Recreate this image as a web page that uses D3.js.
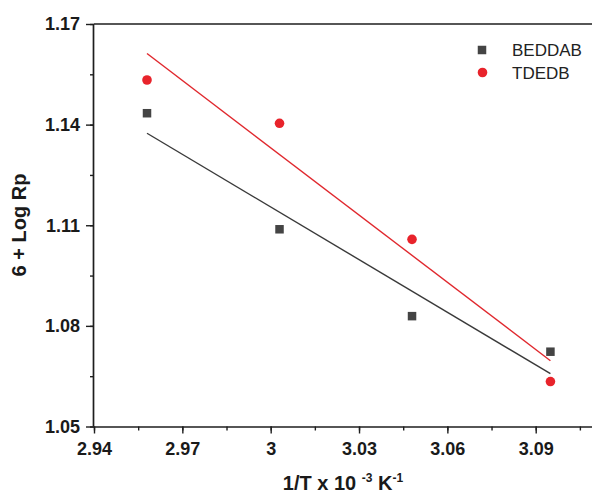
<!DOCTYPE html>
<html>
<head>
<meta charset="utf-8">
<script src="https://cdn.jsdelivr.net/npm/d3@7"></script>
<style>
  html, body { margin: 0; padding: 0; background: #ffffff; }
  svg { display: block; font-family: "Liberation Sans", Arial, sans-serif; }
</style>
</head>
<body>
<svg id="chart" width="592" height="494"></svg>
<script>
// ---- data ----
const invT = [2.958, 3.003, 3.048, 3.095];
const beddab = [1.1434, 1.1088, 1.0829, 1.0723];
const tdedb = [1.1533, 1.1404, 1.1058, 1.0634];
const seriesNames = ["BEDDAB", "TDEDB"];
const xTicks = [2.94, 2.97, 3.00, 3.03, 3.06, 3.09];
const xTickLabels = ["2.94", "2.97", "3", "3.03", "3.06", "3.09"];
const yTicks = [1.05, 1.08, 1.11, 1.14, 1.17];
const yTickLabels = ["1.05", "1.08", "1.11", "1.14", "1.17"];

(function () {
const svg = d3.select("#chart");
const mLeft = 94, mRight = 594.6, mTop = 24, mBottom = 426.5;

const x = d3.scaleLinear().domain([2.94, 3.11]).range([mLeft, mRight]);
const y = d3.scaleLinear().domain([1.05, 1.17]).range([mBottom, mTop]);

const axisColor = "#1e1e1e";

// minor ticks
const xMinor = d3.range(0, 12).map(i => 2.94 + 0.015 * i).filter(v => v <= 3.11);
const yMinor = d3.range(0, 9).map(i => 1.05 + 0.015 * i);

// x axis
const gx = svg.append("g").attr("transform", `translate(0,${mBottom})`);
gx.call(d3.axisBottom(x).tickValues(xMinor).tickSize(4).tickFormat(""))
  .call(g => g.select(".domain").remove());
gx.selectAll("line").attr("stroke", axisColor).attr("stroke-width", 1.4);
const gx2 = svg.append("g").attr("transform", `translate(0,${mBottom})`);
gx2.call(d3.axisBottom(x).tickValues(xTicks).tickSize(7).tickPadding(9)
    .tickFormat((d, i) => xTickLabels[i]));
gx2.select(".domain").attr("stroke", axisColor).attr("stroke-width", 1.7)
   .attr("d", `M${mLeft},0.5H${mRight}`);
gx2.selectAll("line").attr("stroke", axisColor).attr("stroke-width", 1.4);
gx2.selectAll("text").attr("font-size", 18).attr("font-weight", "bold")
   .attr("fill", "#1a1a1a").attr("font-family", "Liberation Sans, Arial, sans-serif");

// y axis
const gy = svg.append("g").attr("transform", `translate(${mLeft},0)`);
gy.call(d3.axisLeft(y).tickValues(yMinor).tickSize(4).tickFormat(""))
  .call(g => g.select(".domain").remove());
gy.selectAll("line").attr("stroke", axisColor).attr("stroke-width", 1.4);
const gy2 = svg.append("g").attr("transform", `translate(${mLeft},0)`);
gy2.call(d3.axisLeft(y).tickValues(yTicks).tickSize(8).tickPadding(6)
    .tickFormat((d, i) => yTickLabels[i]));
gy2.select(".domain").attr("stroke", axisColor).attr("stroke-width", 1.7)
   .attr("d", `M-0.5,${mBottom}V${mTop}`);
gy2.selectAll("line").attr("stroke", axisColor).attr("stroke-width", 1.4);
gy2.selectAll("text").attr("font-size", 18).attr("font-weight", "bold")
   .attr("fill", "#1a1a1a").attr("font-family", "Liberation Sans, Arial, sans-serif");

// top frame
svg.append("line").attr("x1", mLeft).attr("x2", mRight)
  .attr("y1", y(1.17)).attr("y2", y(1.17))
  .attr("stroke", axisColor).attr("stroke-width", 1.7);

// fit lines (least squares of each series)
function fit(xs, ys) {
  const mx = d3.mean(xs), my = d3.mean(ys);
  let sxy = 0, sxx = 0;
  xs.forEach((v, i) => { sxy += (v - mx) * (ys[i] - my); sxx += (v - mx) * (v - mx); });
  const b = sxy / sxx;
  return v => my + b * (v - mx);
}
const xr = d3.extent(invT);
[[beddab, "#3a3a3a"], [tdedb, "#e0282e"]].forEach(([ys, c]) => {
  const f = fit(invT, ys);
  svg.append("line")
    .attr("x1", x(xr[0])).attr("y1", y(f(xr[0])))
    .attr("x2", x(xr[1])).attr("y2", y(f(xr[1])))
    .attr("stroke", c).attr("stroke-width", 1.4);
});

// markers
const sq = 8.5;
svg.append("g").selectAll("rect").data(invT).join("rect")
  .attr("x", (d) => x(d) - sq / 2)
  .attr("y", (d, i) => y(beddab[i]) - sq / 2)
  .attr("width", sq).attr("height", sq)
  .attr("fill", "#444444");
svg.append("g").selectAll("circle").data(invT).join("circle")
  .attr("cx", d => x(d))
  .attr("cy", (d, i) => y(tdedb[i]))
  .attr("r", 4.8)
  .attr("fill", "#e8232b");

// legend
const lg = svg.append("g");
lg.append("rect").attr("x", 482 - sq / 2).attr("y", 50 - sq / 2)
  .attr("width", sq).attr("height", sq).attr("fill", "#444444");
lg.append("circle").attr("cx", 482.5).attr("cy", 72.5).attr("r", 4.8).attr("fill", "#e8232b");
lg.append("text").attr("x", 512).attr("y", 56).attr("font-size", 17)
  .attr("fill", "#222").text(seriesNames[0]);
lg.append("text").attr("x", 512).attr("y", 78.5).attr("font-size", 17)
  .attr("fill", "#222").text(seriesNames[1]);

// axis titles
const xt = svg.append("text").attr("x", 343).attr("y", 490)
  .attr("text-anchor", "middle").attr("font-size", 20).attr("font-weight", "bold")
  .attr("fill", "#1a1a1a");
xt.append("tspan").text("1/T x 10 ");
xt.append("tspan").attr("font-size", 12).attr("dy", -8).text("-3");
xt.append("tspan").attr("dy", 8).text(" K");
xt.append("tspan").attr("font-size", 12).attr("dy", -8).text("-1");

svg.append("text")
  .attr("transform", "translate(26,225) rotate(-90)")
  .attr("text-anchor", "middle").attr("font-size", 20).attr("font-weight", "bold")
  .attr("fill", "#1a1a1a").text("6 + Log Rp");
})();
</script>
</body>
</html>
